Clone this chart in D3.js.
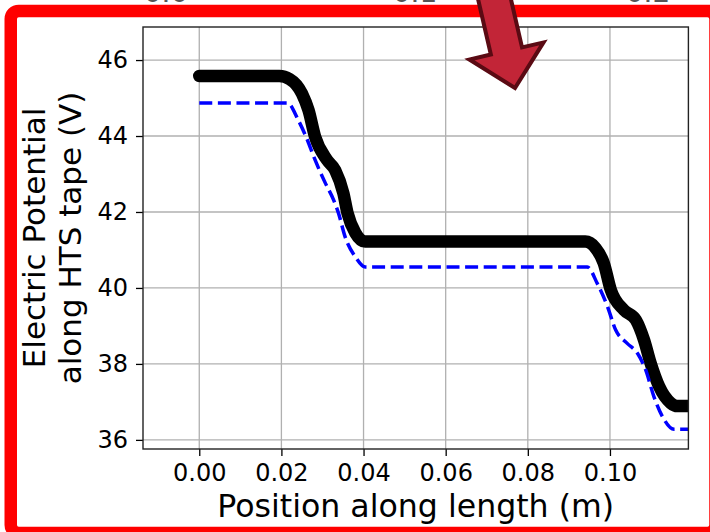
<!DOCTYPE html>
<html>
<head>
<meta charset="utf-8">
<script src="https://cdnjs.cloudflare.com/ajax/libs/d3/7.8.5/d3.min.js"></script>
<style>
  body { margin: 0; background: #fff; }
  svg { display: block; font-family: "DejaVu Sans", sans-serif; }
</style>
</head>
<body>
<svg id="chart" width="710" height="532"></svg>
<script>
// values
var blackX = [0, 0.0195, 0.022, 0.025, 0.0266, 0.0282, 0.0311, 0.0331, 0.0351, 0.0361, 0.038, 0.0404,
              0.094, 0.0965, 0.0985, 0.1002, 0.1034, 0.1063, 0.1083, 0.1099, 0.112, 0.1148, 0.1164, 0.125]
var blackY = [45.58, 45.58, 45.5, 45.12, 44.68, 43.98, 43.37, 43.1, 42.49, 41.97, 41.45, 41.22,
              41.22, 41.05, 40.65, 39.95, 39.42, 39.16, 38.63, 38.02, 37.4, 36.97, 36.89, 36.89]

var blueX = [0, 0.0215, 0.0241, 0.026, 0.0282, 0.0307, 0.0327, 0.0339, 0.0355, 0.038, 0.0404,
             0.0945, 0.0969, 0.0994, 0.1014, 0.1042, 0.1067, 0.1087, 0.1107, 0.1128, 0.1156, 0.125]
var blueY = [44.87, 44.87, 44.42, 43.98, 43.37, 42.76, 42.32, 41.97, 41.35, 40.82, 40.55,
             40.55, 40.12, 39.51, 38.89, 38.54, 38.28, 37.84, 37.14, 36.61, 36.28, 36.28]

var xTicks = [0, 0.02, 0.04, 0.06, 0.08, 0.10]
var yTicks = [36, 38, 40, 42, 44, 46]
// cut off labels of the panel above
var topLabels = ["0.0", "0.1", "0.2"]
var topLabelX = [166, 415, 648]
var xLabel = "Position along length (m)"
var yLabel = ["Electric Potential", "along HTS tape (V)"]

var svg = d3.select("#chart"),
    width = +svg.attr("width"),
    height = +svg.attr("height");

var plot = {left: 143, top: 27, right: 688.4, bottom: 449}

var x = d3.scaleLinear().domain([-0.0137, 0.1191]).range([plot.left, plot.right])
var y = d3.scaleLinear().domain([35.76, 46.87]).range([plot.bottom, plot.top])

// gridlines
var grid = svg.append("g")
  .attr("stroke", "#b0b0b0")
  .attr("stroke-width", 1.3)
for (var i in xTicks) {
  grid.append("line")
    .attr("x1", x(xTicks[i])).attr("x2", x(xTicks[i]))
    .attr("y1", plot.top).attr("y2", plot.bottom)
}
for (var i in yTicks) {
  grid.append("line")
    .attr("x1", plot.left).attr("x2", plot.right)
    .attr("y1", y(yTicks[i])).attr("y2", y(yTicks[i]))
}

svg.append("clipPath").attr("id", "clip")
  .append("rect")
  .attr("x", plot.left).attr("y", plot.top)
  .attr("width", plot.right - plot.left).attr("height", plot.bottom - plot.top)

var line = d3.line()
  .x(function(d) { return x(d[0]) })
  .y(function(d) { return y(d[1]) })
  .curve(d3.curveMonotoneX)

var lines = svg.append("g").attr("clip-path", "url(#clip)")

// thick black curve (marker trail)
lines.append("path")
  .datum(d3.zip(blackX, blackY))
  .attr("d", line)
  .attr("fill", "none")
  .attr("stroke", "#000")
  .attr("stroke-width", 12.5)
  .attr("stroke-linecap", "round")
  .attr("stroke-linejoin", "round")

// blue dashed curve on top
lines.append("path")
  .datum(d3.zip(blueX, blueY))
  .attr("d", line)
  .attr("fill", "none")
  .attr("stroke", "#0000ff")
  .attr("stroke-width", 3.5)
  .attr("stroke-dasharray", "13,5.6")

// axes
var xAxis = svg.append("g")
  .attr("transform", "translate(0," + plot.bottom + ")")
  .call(d3.axisBottom(x).tickValues(xTicks).tickFormat(d3.format(".2f")).tickSize(7).tickPadding(8))
var yAxis = svg.append("g")
  .attr("transform", "translate(" + plot.left + ",0)")
  .call(d3.axisLeft(y).tickValues(yTicks).tickFormat(d3.format("d")).tickSize(7).tickPadding(8))

svg.selectAll(".domain").remove()
svg.selectAll(".tick line").attr("stroke", "#000").attr("stroke-width", 1.3)
svg.selectAll(".tick text")
  .attr("font-family", "DejaVu Sans")
  .attr("font-size", 24)
  .attr("fill", "#000")

// frame
svg.append("rect")
  .attr("x", plot.left).attr("y", plot.top)
  .attr("width", plot.right - plot.left).attr("height", plot.bottom - plot.top)
  .attr("fill", "none")
  .attr("stroke", "#222")
  .attr("stroke-width", 1.4)

// axis labels
svg.append("text")
  .attr("x", (plot.left + plot.right) / 2)
  .attr("y", 517)
  .attr("text-anchor", "middle")
  .attr("font-size", 31.6)
  .text(xLabel)

var yl = svg.append("text")
  .attr("transform", "translate(45," + (plot.top + plot.bottom) / 2 + ") rotate(-90)")
  .attr("text-anchor", "middle")
  .attr("font-size", 31)
yl.append("tspan").attr("x", 0).attr("y", 0).text(yLabel[0])
yl.append("tspan").attr("x", 0).attr("y", 36).text(yLabel[1])

// bottoms of the labels from the panel above
for (var i in topLabels) {
  svg.append("text")
    .attr("x", topLabelX[i])
    .attr("y", 2.2)
    .attr("text-anchor", "middle")
    .attr("font-size", 28)
    .attr("fill", "#555")
    .text(topLabels[i])
}

// red highlight box
svg.append("rect")
  .attr("x", 10.75).attr("y", 10.9)
  .attr("width", 704.75).attr("height", 522)
  .attr("rx", 8)
  .attr("fill", "none")
  .attr("stroke", "#ff0000")
  .attr("stroke-width", 12.5)

// arrow pointing into the plot
var ang = 13 * Math.PI / 180
var d = [Math.sin(ang), Math.cos(ang)], n = [Math.cos(ang), -Math.sin(ang)]
var tip = [515, 88], headLen = 38, headHalf = 38, shaftHalf = 16, shaftLen = 80
var b = [tip[0] - headLen * d[0], tip[1] - headLen * d[1]]
var s = [b[0] - shaftLen * d[0], b[1] - shaftLen * d[1]]
var pts = [
  [s[0] - shaftHalf * n[0], s[1] - shaftHalf * n[1]],
  [b[0] - shaftHalf * n[0], b[1] - shaftHalf * n[1]],
  [b[0] - headHalf * n[0], b[1] - headHalf * n[1]],
  tip,
  [b[0] + headHalf * n[0], b[1] + headHalf * n[1]],
  [b[0] + shaftHalf * n[0], b[1] + shaftHalf * n[1]],
  [s[0] + shaftHalf * n[0], s[1] + shaftHalf * n[1]]
]
svg.append("polygon")
  .attr("points", pts.map(function(p) { return p.join(",") }).join(" "))
  .attr("fill", "#c22537")
  .attr("stroke", "#5a0a13")
  .attr("stroke-width", 4)
  .attr("stroke-linejoin", "miter")
</script>
</body>
</html>
